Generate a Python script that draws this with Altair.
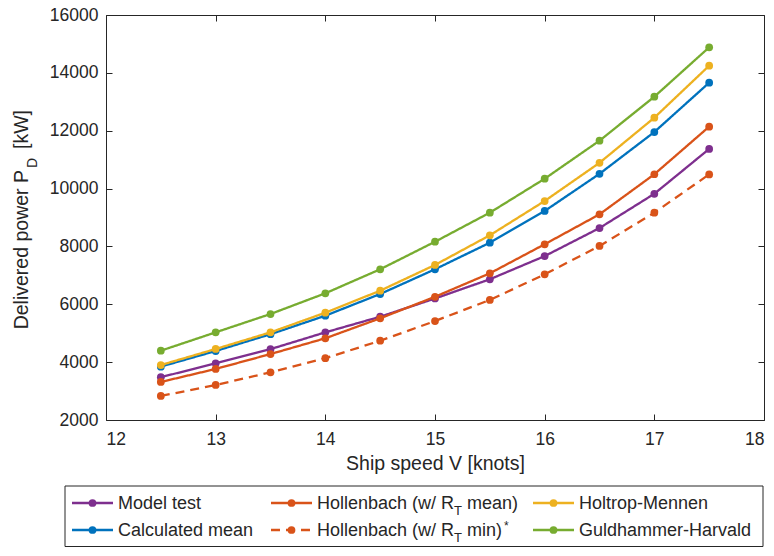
import altair as alt
import pandas as pd

speeds = [12.5, 13, 13.5, 14, 14.5, 15, 15.5, 16, 16.5, 17, 17.5]
model_test = [3480, 3960, 4450, 5030, 5570, 6200, 6865, 7665, 8635, 9820, 11370]
calc_mean = [3845, 4385, 4965, 5605, 6355, 7210, 8130, 9225, 10510, 11955, 13660]
holl_mean = [3315, 3765, 4280, 4825, 5515, 6260, 7070, 8075, 9110, 10495, 12140]
holl_min = [2830, 3210, 3650, 4135, 4740, 5420, 6150, 7035, 8015, 9167, 10490]
holtrop = [3900, 4455, 5030, 5710, 6470, 7360, 8385, 9570, 10890, 12450, 14247]
guldhammer = [4396, 5030, 5664, 6380, 7210, 8162, 9167, 10340, 11655, 13176, 14883]

names = ["Model test", "Calculated mean", "Hollenbach mean", "Hollenbach min",
         "Holtrop-Mennen", "Guldhammer-Harvald"]
values = [model_test, calc_mean, holl_mean, holl_min, holtrop, guldhammer]
colors = ["#7E2F8E", "#0072BD", "#D95319", "#D95319", "#EDB120", "#77AC30"]
dashes = [[1, 0], [1, 0], [1, 0], [9, 6], [1, 0], [1, 0]]
# legend label pieces: (text, dx, dy, fontsize)
labels = [
    [("Model test", 0, 0, 18)],
    [("Calculated mean", 0, 0, 18)],
    [("Hollenbach (w/ R", 0, 0, 18), ("T", 137, 7, 13), ("mean)", 150, 0, 18)],
    [("Hollenbach (w/ R", 0, 0, 18), ("T", 137, 7, 13), ("min)", 150, 0, 18), ("*", 187, -5, 12)],
    [("Holtrop-Mennen", 0, 0, 18)],
    [("Guldhammer-Harvald", 0, 0, 18)],
]
x_ticks = [12, 13, 14, 15, 16, 17, 18]
y_ticks = [2000, 4000, 6000, 8000, 10000, 12000, 14000, 16000]

rows = []
for n, vals in zip(names, values):
    for s, v in zip(speeds, vals):
        rows.append({"speed": s, "power": v, "series": n})
df = pd.DataFrame(rows)
one = pd.DataFrame({"a": [0]})

W, H = 658, 405
AX = "#262626"
xs = alt.Scale(domain=[12, 18], nice=False, zero=False)
ys = alt.Scale(domain=[2000, 16000], nice=False, zero=False)

layers = []
# axis layer: bottom / left
layers.append(
    alt.Chart(df).mark_point(opacity=0).encode(
        x=alt.X("speed:Q", scale=xs, axis=alt.Axis(
            orient="bottom", values=x_ticks, domain=False, grid=False, offset=-6,
            tickSize=6, tickColor=AX, labelPadding=10, labelFontSize=17.5,
            labelColor=AX, title="Ship speed V [knots]", titleFontSize=19.5,
            titleFontWeight="normal", titleColor=AX, titlePadding=7)),
        y=alt.Y("power:Q", scale=ys, axis=alt.Axis(
            orient="left", values=y_ticks, format="d", domain=False, grid=False,
            offset=-6, tickSize=6, tickColor=AX, labelPadding=8,
            labelFontSize=17.5, labelColor=AX, title=None)),
    )
)
# axis layer: top / right (ticks only)
layers.append(
    alt.Chart(df).mark_point(opacity=0).encode(
        x=alt.X("speed:Q", scale=xs, axis=alt.Axis(
            orient="top", values=x_ticks, domain=False, grid=False, offset=-6,
            tickSize=6, tickColor=AX, labels=False, title=None)),
        y=alt.Y("power:Q", scale=ys, axis=alt.Axis(
            orient="right", values=y_ticks, domain=False, grid=False, offset=-6,
            tickSize=6, tickColor=AX, labels=False, title=None)),
    )
)

for n, c, d in zip(names, colors, dashes):
    base = alt.Chart(df).transform_filter(alt.datum.series == n)
    enc = dict(x=alt.X("speed:Q", scale=xs, axis=None),
               y=alt.Y("power:Q", scale=ys, axis=None))
    layers.append(base.mark_line(color=c, strokeWidth=2.3, strokeDash=d).encode(**enc))
    layers.append(base.mark_circle(color=c, size=60, opacity=1).encode(**enc))

# y axis title with subscript
ox, oy = 106, 15
layers.append(alt.Chart(one).mark_text(angle=270, align="right", baseline="middle",
                                       fontSize=19.5, color=AX, text="Delivered power P")
              .encode(x=alt.value(21.5 - ox), y=alt.value(170 - oy)))
layers.append(alt.Chart(one).mark_text(angle=270, align="left", baseline="middle",
                                       fontSize=14, color=AX, text="D")
              .encode(x=alt.value(33 - ox), y=alt.value(168 - oy)))
layers.append(alt.Chart(one).mark_text(angle=270, align="left", baseline="middle",
                                       fontSize=19.5, color=AX, text="[kW]")
              .encode(x=alt.value(21.5 - ox), y=alt.value(149 - oy)))

# legend box
layers.append(alt.Chart(one).mark_rect(fillOpacity=0, stroke=AX, strokeWidth=1).encode(
    x=alt.value(65 - ox), x2=alt.value(763 - ox), y=alt.value(486 - oy), y2=alt.value(546.5 - oy)))

col_x = [72, 271, 533]
row_y = [503, 530]
for i, (n, c, d, lab) in enumerate(zip(names, colors, dashes, labels)):
    lx = col_x[i // 2] - ox
    ly = row_y[i % 2] - oy
    layers.append(alt.Chart(one).mark_rule(color=c, strokeWidth=2.3, strokeDash=d).encode(
        x=alt.value(lx), x2=alt.value(lx + 41), y=alt.value(ly)))
    layers.append(alt.Chart(one).mark_circle(color=c, size=60, opacity=1).encode(
        x=alt.value(lx + 20.5), y=alt.value(ly)))
    for t, dx, dy, fs in lab:
        layers.append(alt.Chart(one).mark_text(align="left", baseline="middle", fontSize=fs,
                                               color=AX, text=t).encode(
            x=alt.value(lx + 46 + dx), y=alt.value(ly + 1 + dy)))

chart = alt.layer(*layers).resolve_axis(x="independent", y="independent").properties(
    width=W, height=H,
    autosize=alt.AutoSizeParams(type="none"),
    padding={"left": 98, "top": 7, "right": 2, "bottom": 128},
).configure(font="Liberation Sans").configure_view(stroke=AX, strokeWidth=1)

chart.save("out.html", embed_options={"renderer": "svg", "actions": False})
